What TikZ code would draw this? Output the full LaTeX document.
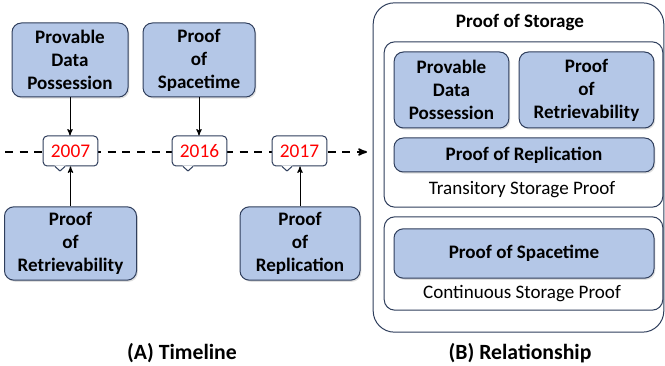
\documentclass[tikz,border=0pt]{standalone}
\usepackage{fontspec}
\setmainfont{Carlito}
\usepackage{tikz}
\usetikzlibrary{shapes,arrows,positioning,calc,shadows}

\definecolor{boxblue}{HTML}{B4C7E7}
\definecolor{boxedge}{HTML}{2F3E5C}

% little pointer under a year tag: #1 = node, #2 = x offset from its centre
\newcommand{\tagnotch}[2]{%
  \fill[white] ($(#1.south)+(#2-5.5,-1)$) -- ($(#1.south)+(#2,4.5)$) -- ($(#1.south)+(#2+5.5,-1)$) -- cycle;
  \draw[boxedge, line width=0.75pt, line join=round] ($(#1.south)+(#2-5,0)$) -- ($(#1.south)+(#2,4.5)$) -- ($(#1.south)+(#2+5,0)$);
}

\begin{document}
\begin{tikzpicture}[x=0.75pt,y=-0.75pt,>=stealth',
  main node/.style={draw=boxedge, fill=boxblue, line width=0.75pt, rounded corners=7pt, align=center, inner sep=1pt,
    font=\bfseries\fontsize{14.3}{17.3}\selectfont,
    drop shadow={opacity=0.25, shadow xshift=1pt, shadow yshift=-1.2pt}},
  year node/.style={draw=boxedge, fill=white, line width=0.75pt, rounded corners=3pt, text=red, inner sep=0pt,
    minimum width=41pt, minimum height=22.5pt, font=\fontsize{14.5}{17}\selectfont},
  group node/.style={draw=boxedge, fill=white, line width=0.75pt, inner sep=0pt},
  plain text/.style={font=\fontsize{14.3}{17}\selectfont},
  caption text/.style={font=\bfseries\fontsize{16.3}{19}\selectfont}]
				\useasboundingbox (0,0) rectangle (665,366);
				
				% (A) timeline
				\coordinate (t0) at (5,152);
				\coordinate (t1) at (367,152);
				\draw[line width=1.3pt, dash pattern=on 6pt off 5pt, ->] (t0) -- (t1);
				
				\node[year node] (y1) at (70.5,151) {2007};
				\node[year node] (y2) at (199.5,151) {2016};
				\node[year node] (y3) at (299.5,151) {2017};
				\tagnotch{y1}{-10.5}
				\tagnotch{y2}{-11.5}
				\tagnotch{y3}{-12.5}
				
				\node[main node, minimum width=87pt, minimum height=55.5pt] (1) at (70,60) {Provable\\Data\\Possession};
				\node[main node, minimum width=84pt, minimum height=55.5pt] (2) at (199,60) {Proof\\of\\Spacetime};
				\node[main node, minimum width=99pt, minimum height=55pt] (3) at (70.5,243.5) {Proof\\of\\Retrievability};
				\node[main node, minimum width=90pt, minimum height=55pt] (4) at (300,243.5) {Proof\\of\\Replication};
				
				\path[->, line width=0.75pt]
				(1) edge (1 |- y1.north)
				(2) edge (2 |- y2.north)
				(3) edge (3 |- y1.south)
				(4) edge (4 |- y3.south);
				
				\node[caption text] (a) at (182,353) {(A) Timeline};
				
				% (B) relationship
				\node[group node, rounded corners=16pt, minimum width=218pt, minimum height=247pt] (5) at (518.5,167.5) {};
				\node[font=\bfseries\fontsize{14.3}{17}\selectfont] (6) at (520,22) {Proof of Storage};
				
				\node[group node, rounded corners=8pt, minimum width=209pt, minimum height=124pt] (7) at (523.5,124.5) {};
				\node[main node, minimum width=86pt, minimum height=57pt] (8) at (451.5,90) {Provable\\Data\\Possession};
				\node[main node, minimum width=101pt, minimum height=57pt] (9) at (586.5,90) {Proof\\of\\Retrievability};
				\node[main node, minimum width=195pt, minimum height=25.5pt] (10) at (524,155) {Proof of Replication};
				\node[plain text] (11) at (522,190) {Transitory Storage Proof};
				
				\node[group node, rounded corners=8pt, minimum width=209pt, minimum height=70pt] (12) at (523.5,263.5) {};
				\node[main node, minimum width=195pt, minimum height=37pt] (13) at (524,253.5) {Proof of Spacetime};
				\node[plain text] (14) at (522,294) {Continuous Storage Proof};
				
				\node[caption text] (b) at (520,353) {(B) Relationship};
				
\end{tikzpicture}
\end{document}
